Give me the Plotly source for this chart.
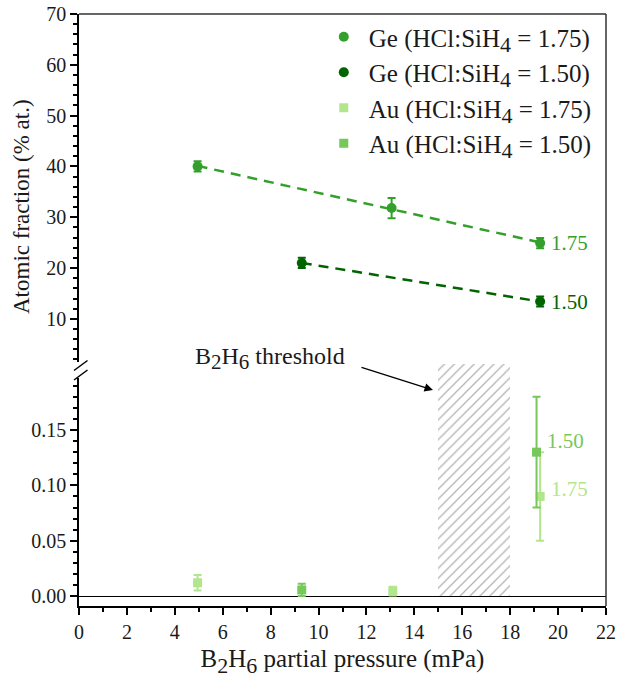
import numpy as np
import plotly.graph_objects as go

# B2H6 partial pressure (mPa) and measured atomic fractions
ge175_x = [4.95, 13.05, 19.25]
ge175_y = [40.0, 31.8, 24.9]
ge175_err = [1.0, 2.0, 1.0]

ge150_x = [9.3, 19.25]
ge150_y = [21.0, 13.4]
ge150_err = [1.0, 1.0]

au175_x = [4.95, 13.1, 19.25]
au175_y = [0.012, 0.0045, 0.090]
au175_err = [0.007, 0.004, 0.040]

au150_x = [9.3, 19.1]
au150_y = [0.0055, 0.130]
au150_err = [0.0055, 0.050]

threshold_range = [15, 18]
threshold_top = 0.2096

C_GE175 = "#33a02c"
C_GE150 = "#006400"
C_AU175 = "#b2e68c"
C_AU150 = "#76c85a"

FONT = "Liberation Serif"
TXT = "#1a1a1a"


def sub(t, size):
    return f"<sub><span style='font-size:{size}px'>{t}</span></sub>"


# plot area geometry (pixels) used to split the broken axis
W, H = 619, 679
ML, MR, MT, MB = 79, 13, 14, 73
plot_h = H - MT - MB
lower_top_px, upper_bot_px = 378, 362
lower_dom = [0, (H - MB - lower_top_px) / plot_h]
upper_dom = [(H - MB - upper_bot_px) / plot_h, 1]
lower_range = [-0.009, 0.197]
# an extended copy of the lower scale, used for the threshold band
ext_dom = [0, 0.41]
ext_range = [lower_range[0],
             lower_range[0] + (lower_range[1] - lower_range[0]) * ext_dom[1] / lower_dom[1]]

fig = go.Figure()


def fit_line(xs, ys):
    k, b = np.polyfit(xs, ys, 1)
    xx = np.array([min(xs), max(xs)])
    return xx, k * xx + b


for xs, ys, c in [(ge175_x, ge175_y, C_GE175), (ge150_x, ge150_y, C_GE150)]:
    fx, fy = fit_line(xs, ys)
    fig.add_trace(go.Scatter(x=fx, y=fy, mode="lines", yaxis="y2",
                             line=dict(color=c, width=2.5, dash="10px,7px"),
                             showlegend=False, hoverinfo="skip"))

# threshold band
fig.add_trace(go.Bar(x=[(threshold_range[0] + threshold_range[1]) / 2], y=[threshold_top],
                     base=0, width=threshold_range[1] - threshold_range[0], yaxis="y3",
                     marker=dict(color="rgba(0,0,0,0)", line=dict(width=0),
                                 pattern=dict(shape="/", fgcolor="#666666", bgcolor="rgba(0,0,0,0)",
                                              size=7, solidity=0.18)),
                     showlegend=False, hoverinfo="skip"))


def series(xs, ys, err, color, symbol, size, name, yaxis):
    return go.Scatter(x=xs, y=ys, mode="markers", name=name, yaxis=yaxis,
                      marker=dict(color=color, symbol=symbol, size=size),
                      error_y=dict(type="data", array=err, color=color, thickness=2, width=4))


LEG = 25
LSUB = 22
fig.add_trace(series(ge175_x, ge175_y, ge175_err, C_GE175, "circle", 10,
                     f"Ge (HCl:SiH{sub(4, LSUB)} = 1.75)", "y2"))
fig.add_trace(series(ge150_x, ge150_y, ge150_err, C_GE150, "circle", 10,
                     f"Ge (HCl:SiH{sub(4, LSUB)} = 1.50)", "y2"))
fig.add_trace(series(au175_x, au175_y, au175_err, C_AU175, "square", 9,
                     f"Au (HCl:SiH{sub(4, LSUB)} = 1.75)", "y"))
fig.add_trace(series(au150_x, au150_y, au150_err, C_AU150, "square", 9,
                     f"Au (HCl:SiH{sub(4, LSUB)} = 1.50)", "y"))

tickfont = dict(family=FONT, size=20, color=TXT)
common_axis = dict(showline=True, linecolor="black", linewidth=1.5, ticks="outside",
                   ticklen=7, tickwidth=1.5, tickcolor="black", showgrid=False,
                   tickfont=tickfont, automargin=False)

fig.update_layout(
    width=W, height=H, autosize=False,
    margin=dict(l=ML, r=MR, t=MT, b=MB, autoexpand=False),
    paper_bgcolor="white", plot_bgcolor="rgba(0,0,0,0)",
    font=dict(family=FONT, color=TXT),
    bargap=0,
    xaxis=dict(range=[0, 22], dtick=2, tick0=0, anchor="y",
               minor=dict(dtick=1, ticks="outside", ticklen=4, tickwidth=1.5, tickcolor="black"),
               title=dict(text=f"B{sub(2, 22)}H{sub(6, 22)} partial pressure (mPa)",
                          font=dict(family=FONT, size=25, color=TXT), standoff=8),
               zeroline=False, **common_axis),
    yaxis=dict(domain=lower_dom, range=lower_range, dtick=0.05, tick0=0, tickformat=".2f",
               minor=dict(dtick=0.01, ticks="outside", ticklen=4, tickwidth=1.5, tickcolor="black"),
               zeroline=True, zerolinecolor="black", zerolinewidth=1.2, anchor="x",
               **common_axis),
    yaxis2=dict(domain=upper_dom, range=[1.5, 70], dtick=10, tick0=0, anchor="x",
                minor=dict(dtick=2, ticks="outside", ticklen=4, tickwidth=1.5, tickcolor="black"),
                zeroline=False, **common_axis),
    yaxis3=dict(domain=ext_dom, range=ext_range, anchor="x", visible=False),
    legend=dict(x=0.455, y=1.0, xanchor="left", yanchor="top", itemwidth=40,
                bgcolor="rgba(0,0,0,0)", borderwidth=0,
                font=dict(family=FONT, size=LEG, color=TXT), tracegroupgap=4),
    showlegend=True,
)

# frame on top and right, plus the axis-break marks
frame = dict(color="#333333", width=1.5)
fig.add_shape(type="line", xref="paper", yref="paper", x0=0, x1=1, y0=1, y1=1, line=frame)
fig.add_shape(type="line", xref="paper", yref="paper", x0=1, x1=1, y0=0, y1=1, line=frame)


def px2paper(px, py):
    return (px - ML) / (W - ML - MR), (H - MB - py) / plot_h


for (a, b) in [((74, 370.5), (87.5, 360.5)), ((74, 380), (87.5, 370))]:
    x0, y0 = px2paper(*a)
    x1, y1 = px2paper(*b)
    fig.add_shape(type="line", xref="paper", yref="paper", x0=x0, y0=y0, x1=x1, y1=y1,
                  line=dict(color="black", width=1.5))

# y-axis title
yx, yy = px2paper(22, 207)
fig.add_annotation(x=yx, y=yy, xref="paper", yref="paper", showarrow=False, textangle=-90,
                   xanchor="center", yanchor="middle",
                   text="Atomic fraction (% at.)", font=dict(family=FONT, size=23, color=TXT))

# series labels next to the last points
lab = dict(family=FONT, size=21)
for x, y, t, c, yr in [(ge175_x[-1], ge175_y[-1], "1.75", C_GE175, "y2"),
                       (ge150_x[-1], ge150_y[-1], "1.50", C_GE150, "y2"),
                       (au150_x[-1], 0.140, "1.50", C_AU150, "y"),
                       (au175_x[-1], 0.097, "1.75", C_AU175, "y")]:
    fig.add_annotation(x=x + 0.35, y=y, xref="x", yref=yr, text=t, showarrow=False,
                       xanchor="left", font=dict(color=c, **lab))

# threshold annotation
tx, ty = px2paper(433, 390)
fig.add_annotation(x=tx, y=ty, xref="paper", yref="paper", ax=-73, ay=-23, text="",
                   showarrow=True, arrowhead=2, arrowsize=1.3, arrowwidth=1.3, arrowcolor="black")
lx, ly = px2paper(270, 358)
fig.add_annotation(x=lx, y=ly, xref="paper", yref="paper", showarrow=False,
                   text=f"B{sub(2, 21)}H{sub(6, 21)} threshold",
                   font=dict(family=FONT, size=24, color=TXT))

fig.write_html("out.html")
